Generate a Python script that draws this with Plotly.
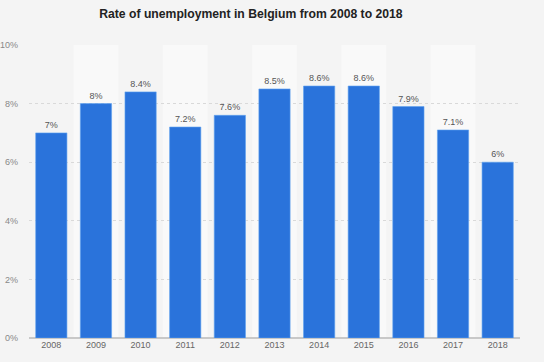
import plotly.graph_objects as go

years = ["2008", "2009", "2010", "2011", "2012", "2013", "2014", "2015", "2016", "2017", "2018"]
rates = [7.0, 8.0, 8.4, 7.2, 7.6, 8.5, 8.6, 8.6, 7.9, 7.1, 6.0]
labels = ["7%", "8%", "8.4%", "7.2%", "7.6%", "8.5%", "8.6%", "8.6%", "7.9%", "7.1%", "6%"]
y_ticks = [0, 2, 4, 6, 8, 10]
y_ticktext = ["0%", "2%", "4%", "6%", "8%", "10%"]

fig = go.Figure()
fig.add_trace(go.Bar(
    x=list(range(len(years))), y=rates,
    text=labels, textposition="outside",
    textfont=dict(family="Liberation Sans, Arial, sans-serif", size=9, color="#555555"),
    cliponaxis=False,
    marker=dict(color="#2a73db", line=dict(color="#5fa2f0", width=0.6)),
    width=0.7,
    hoverinfo="skip",
))

shapes = []
for i in range(len(years)):
    if i % 2 == 1:
        shapes.append(dict(type="rect", xref="x", yref="paper", x0=i - 0.5, x1=i + 0.5,
                           y0=0, y1=1, fillcolor="#f9f9f9", line=dict(width=0), layer="below"))

fig.update_layout(
    width=544, height=362,
    margin=dict(l=29, r=24, t=45, b=24),
    paper_bgcolor="#f4f4f4", plot_bgcolor="#f4f4f4",
    title=dict(text="<b>Rate of unemployment in Belgium from 2008 to 2018</b>",
               x=0.452, xref="paper", xanchor="center", y=0.962, yanchor="middle",
               font=dict(family="Liberation Sans, Arial, sans-serif", size=12.2, color="#222222")),
    showlegend=False,
    shapes=shapes,
    bargap=0.3,
)
fig.update_xaxes(
    tickmode="array", tickvals=list(range(len(years))), ticktext=years,
    range=[-0.5, len(years) - 0.5],
    tickfont=dict(family="Liberation Sans, Arial, sans-serif", size=9, color="#666666"),
    showgrid=False, zeroline=False, showline=False, ticks="", automargin=False,
)
fig.update_yaxes(
    range=[0, 10], tickmode="array", tickvals=y_ticks, ticktext=y_ticktext,
    tickfont=dict(family="Liberation Sans, Arial, sans-serif", size=9, color="#888888"),
    showgrid=True, gridcolor="#d9d9d9", griddash="3px,3px", gridwidth=1,
    zeroline=True, zerolinecolor="#c8c8c8", zerolinewidth=1.5,
    ticklabelstandoff=10, showline=False, ticks="", automargin=False,
)

fig.write_html("out.html", config={"displayModeBar": False},
               post_script="document.body.style.margin='0px';document.body.style.background='#f4f4f4';")
